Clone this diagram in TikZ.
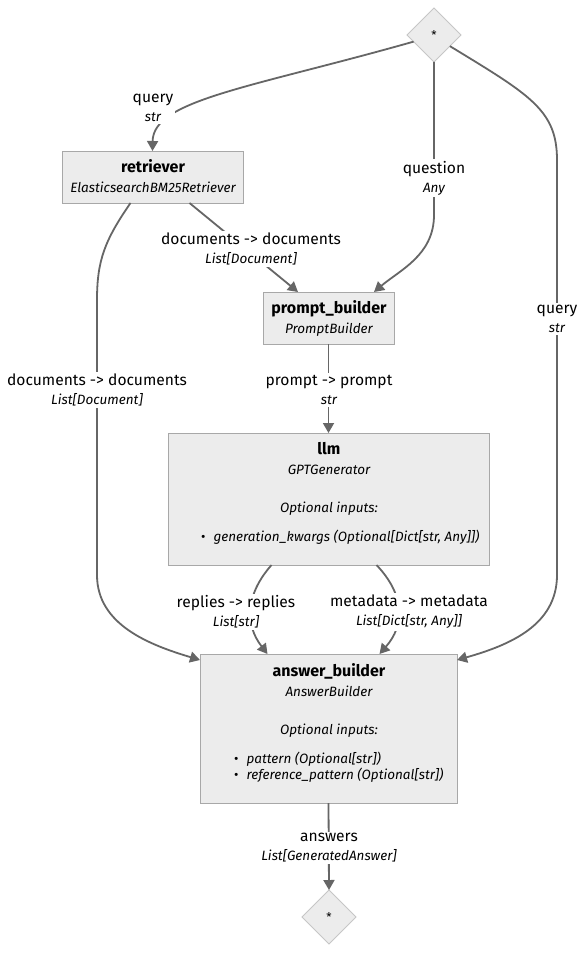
\documentclass[tikz,border=0pt]{standalone}
\usepackage{fontspec}
\setmainfont{Fira Sans}
\usetikzlibrary{arrows.meta,shapes.geometric,calc}
\definecolor{edgegray}{HTML}{666666}
\definecolor{boxfill}{HTML}{ECECEC}
\definecolor{boxline}{HTML}{A8A8A8}
\definecolor{dialine}{HTML}{C6C6C6}
% font for the data type line under a connection label
\newcommand\typefnt{\fontsize{13.5}{15}\selectfont\itshape}
\begin{document}
\begin{tikzpicture}[x=1pt,y=-1pt,
  comp/.style={draw=boxline,fill=boxfill,line width=1pt,inner sep=0pt,outer sep=0pt,anchor=north west},
  dia/.style={diamond,aspect=1,draw=dialine,fill=boxfill,line width=1pt,minimum size=54pt,inner sep=0pt,outer sep=0pt,font=\fontsize{12}{14}\selectfont},
  ttl/.style={inner sep=0pt,anchor=mid,font=\fontsize{16}{19}\selectfont\bfseries},
  sub/.style={inner sep=0pt,anchor=mid,font=\fontsize{13.5}{15}\selectfont\itshape},
  item/.style={inner sep=0pt,anchor=mid west,font=\fontsize{13.5}{15}\selectfont\itshape},
  edge/.style={draw=edgegray,line width=1.8pt,-{Triangle[length=10pt,width=11pt]}},
  elabel/.style={fill=white,inner sep=2pt,align=center,font=\fontsize{15.6}{19}\selectfont},
]
\useasboundingbox (0,0) rectangle (586,955);
\fill[white] (0,0) rectangle (586,955);

% pipeline components
\node[comp,minimum width=181pt,minimum height=52pt] (ret) at (62,151) {};
\node[comp,minimum width=131pt,minimum height=52pt] (pb) at (263,292) {};
\node[comp,minimum width=321pt,minimum height=132pt] (llm) at (168,433) {};
\node[comp,minimum width=257pt,minimum height=149pt] (ab) at (200,654) {};
\node[dia] (src) at (434,35) {*};
\node[dia] (snk) at (329,917) {*};

% component texts
\node[ttl] (retT) at (153,170) {retriever};
\node[sub] (retS) at (153,190) {ElasticsearchBM25Retriever};
\node[ttl] (pbT) at (329,311) {prompt\_builder};
\node[sub] (pbS) at (329,331) {PromptBuilder};
\node[ttl] (llmT) at (329,452) {llm};
\node[sub] (llmS) at (329,472) {GPTGenerator};
\node[sub] (llmO) at (329,510) {Optional inputs:};
\node[item] (llmI) at (201,539) {\upshape\textbullet\hspace{8pt}\itshape generation\_kwargs (Optional[Dict[str, Any]])};
\node[ttl] (abT) at (329,674) {answer\_builder};
\node[sub] (abS) at (329,694) {AnswerBuilder};
\node[sub] (abO) at (329,732) {Optional inputs:};
\node[item] (abI1) at (234,761) {\upshape\textbullet\hspace{8pt}\itshape pattern (Optional[str])};
\node[item] (abI2) at (234,777) {\upshape\textbullet\hspace{8pt}\itshape reference\_pattern (Optional[str])};

% connections
\draw[edge] (src.198) .. controls (250,88) and (153,100) .. (ret.north);
\draw[edge] (src.south) -- (434,215) .. controls (434,255) and (400,270) .. ($(pb.north east)+(-20,0)$);
\draw[edge] (src.-35) .. controls (530,95) and (557,110) .. (557,160) -- (557,575)
  .. controls (557,625) and (510,645) .. ($(ab.north east)+(0,6)$);
\draw[edge] ($(ret.south)+(-22,0)$) .. controls (105,240) and (97,260) .. (97,300) -- (97,575)
  .. controls (97,625) and (150,645) .. ($(ab.north west)+(0,6)$);
\draw[edge] ($(ret.south)+(37,0)$) -- ($(pb.north west)+(35,0)$);
\draw[edge] (pb.south) -- (llm.north);
\draw[edge] ($(llm.south)+(-57,0)$) .. controls (245,595) and (245,625) .. ($(ab.north)+(-61,0)$);
\draw[edge] ($(llm.south)+(48,0)$) .. controls (405,595) and (405,625) .. ($(ab.north)+(51,0)$);
\draw[edge] (ab.south) -- (snk.north);

% connection labels
\node[elabel] (lq1) at (153,108) {query\\{\typefnt str}};
\node[elabel] (lqn) at (434,178) {question\\{\typefnt Any}};
\node[elabel] (lq2) at (557,319) {query\\{\typefnt str}};
\node[elabel] (ld1) at (251,249) {documents -> documents\\{\typefnt List[Document]}};
\node[elabel] (ld2) at (97,390) {documents -> documents\\{\typefnt List[Document]}};
\node[elabel] (lp) at (329,390) {prompt -> prompt\\{\typefnt str}};
\node[elabel] (lr) at (236,612) {replies -> replies\\{\typefnt List[str]}};
\node[elabel] (lm) at (409,612) {metadata -> metadata\\{\typefnt List[Dict[str, Any]]}};
\node[elabel] (la) at (329,848) {answers\\{\typefnt List[GeneratedAnswer]}};
\end{tikzpicture}
\end{document}
